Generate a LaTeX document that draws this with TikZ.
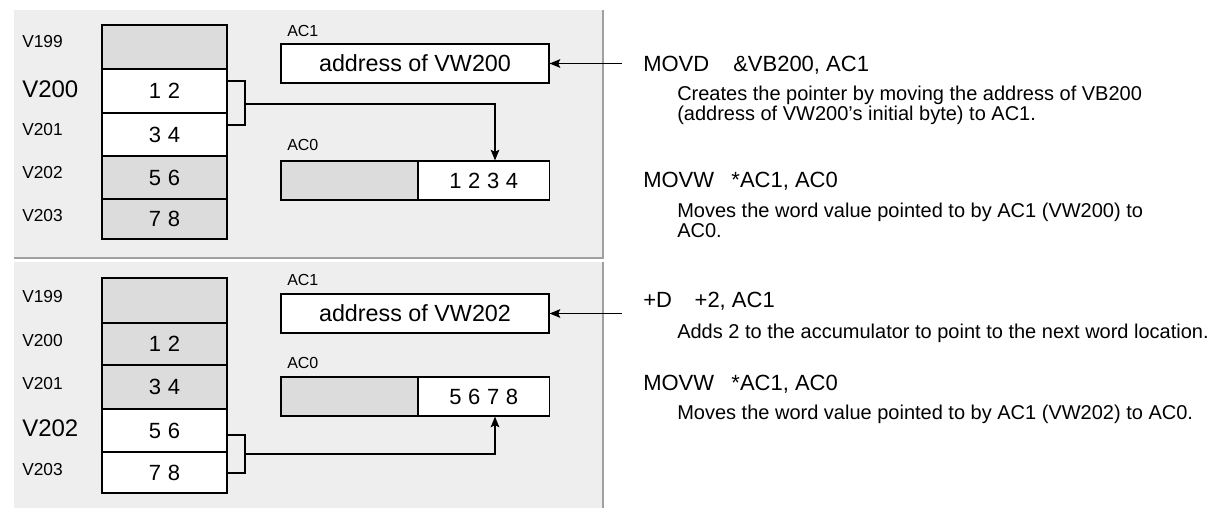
\documentclass[tikz,border=0pt]{standalone}
\usepackage{fontspec}
\setmainfont{Liberation Sans}
\usetikzlibrary{arrows.meta}
\definecolor{panel}{HTML}{EEEEEE}
\definecolor{cellg}{HTML}{DCDCDC}
\definecolor{rim}{HTML}{A0A0A0}
\begin{document}
\begin{tikzpicture}[x=0.75pt,y=-0.75pt,
  cellw/.style={draw=black, line width=0.9pt, fill=white, minimum width=93.75pt, inner sep=0pt, font=\fontsize{16.5}{18}\selectfont},
  cellgr/.style={cellw, fill=cellg},
  vsmall/.style={anchor=west, inner sep=0pt, font=\fontsize{13}{15}\selectfont},
  vbig/.style={anchor=west, inner sep=0pt, font=\fontsize{18}{20}\selectfont},
  acbox/.style={draw=black, line width=0.9pt, fill=white, minimum width=201pt, minimum height=29.25pt, inner sep=0pt, font=\fontsize{17.5}{20}\selectfont},
  acleft/.style={draw=black, line width=0.9pt, fill=cellg, minimum width=102.75pt, minimum height=29.25pt, inner sep=0pt},
  acright/.style={draw=black, line width=0.9pt, fill=white, minimum width=98.25pt, minimum height=29.25pt, inner sep=0pt, font=\fontsize{16.5}{18}\selectfont},
  aclabel/.style={anchor=west, inner sep=0pt, font=\fontsize{12}{14}\selectfont},
  hdr/.style={anchor=base west, inner sep=0pt, font=\fontsize{16.5}{19}\selectfont},
  desc/.style={anchor=base west, inner sep=0pt, font=\fontsize{15}{17}\selectfont},
  ptr/.style={draw=black, line width=0.8pt, -{Stealth[length=8pt,width=6.5pt,inset=1.5pt]}},
  brk/.style={draw=black, line width=0.8pt}
]
\useasboundingbox (0,0) rectangle (1228,508);

% panels
\fill[panel] (14,10) rectangle (603,258);
\draw[rim, line width=1.6pt] (14,258) -- (603,258) -- (603,10);
\fill[panel] (14,262) rectangle (603,508);
\draw[rim, line width=1.6pt] (603,262) -- (603,508);

% ---------- top panel ----------
\node[cellgr, minimum height=33pt]    (t199) at (164.5,47)    {};
\node[cellw,  minimum height=33pt]    (t200) at (164.5,91)    {1\hspace{5pt}2};
\node[cellw,  minimum height=32.25pt] (t201) at (164.5,134.5) {3\hspace{5pt}4};
\node[cellgr, minimum height=32.25pt] (t202) at (164.5,177.5) {5\hspace{5pt}6};
\node[cellgr, minimum height=30pt]    (t203) at (164.5,219)   {7\hspace{5pt}8};

\node[vsmall] (lt199) at (22,42)  {V199};
\node[vbig]   (lt200) at (22,89)  {V200};
\node[vsmall] (lt201) at (22,130) {V201};
\node[vsmall] (lt202) at (22,173) {V202};
\node[vsmall] (lt203) at (22,216) {V203};

\node[aclabel] (lac1t) at (287,31) {AC1};
\node[acbox] (ac1t) at (415,63.5) {address of VW200};
\node[aclabel] (lac0t) at (287,145) {AC0};
\node[acleft]  (ac0tl) at (349.5,180.5) {};
\node[acright] (ac0tr) at (483.75,180.5) {1\hspace{5pt}2\hspace{5pt}3\hspace{5pt}4};

\coordinate (bt1) at (245,81);
\coordinate (bt2) at (245,125);
\coordinate (bt3) at (245,104);
\coordinate (xt) at (495,0);
\draw[brk] (t200.east |- bt1) -- (bt1) -- (bt2) -- (t201.east |- bt2);
\draw[ptr] (bt3) -| (ac0tr.north -| xt);

\coordinate (in1) at (622,63.5);
\draw[ptr] (in1) -- (ac1t.east);

% ---------- bottom panel ----------
\node[cellgr, minimum height=33.75pt] (b199) at (164.5,300.5) {};
\node[cellgr, minimum height=31.5pt]  (b200) at (164.5,344)   {1\hspace{5pt}2};
\node[cellgr, minimum height=33pt]    (b201) at (164.5,387)   {3\hspace{5pt}4};
\node[cellw,  minimum height=32.25pt] (b202) at (164.5,430.5) {5\hspace{5pt}6};
\node[cellw,  minimum height=30.75pt] (b203) at (164.5,472.5) {7\hspace{5pt}8};

\node[vsmall] (lb199) at (22,297) {V199};
\node[vsmall] (lb200) at (22,341) {V200};
\node[vsmall] (lb201) at (22,384) {V201};
\node[vbig]   (lb202) at (22,428) {V202};
\node[vsmall] (lb203) at (22,470) {V203};

\node[aclabel] (lac1b) at (287,280) {AC1};
\node[acbox] (ac1b) at (415,313.5) {address of VW202};
\node[aclabel] (lac0b) at (287,363) {AC0};
\node[acleft]  (ac0bl) at (349.5,396.5) {};
\node[acright] (ac0br) at (483.75,396.5) {5\hspace{5pt}6\hspace{5pt}7\hspace{5pt}8};

\coordinate (bb1) at (245,435);
\coordinate (bb2) at (245,473);
\coordinate (bb3) at (245,454);
\coordinate (xb) at (495,0);
\draw[brk] (b202.east |- bb1) -- (bb1) -- (bb2) -- (b203.east |- bb2);
\draw[ptr] (bb3) -| (ac0br.south -| xb);

\coordinate (in2) at (622,313.5);
\draw[ptr] (in2) -- (ac1b.east);

% ---------- instructions ----------
\node[hdr]  (i1)  at (643,71)  {MOVD\hspace{18pt}\&VB200, AC1};
\node[desc] (d1a) at (677,100) {Creates the pointer by moving the address of VB200};
\node[desc] (d1b) at (677,120) {(address of VW200’s initial byte) to AC1.};
\node[hdr]  (i2)  at (643,187) {MOVW\hspace{13pt}*AC1, AC0};
\node[desc] (d2a) at (677,217) {Moves the word value pointed to by AC1 (VW200) to};
\node[desc] (d2b) at (677,237) {AC0.};

\node[hdr]  (i3)  at (643,307) {+D\hspace{17pt}+2, AC1};
\node[desc] (d3)  at (677,338) {Adds 2 to the accumulator to point to the next word location.};
\node[hdr]  (i4)  at (643,390) {MOVW\hspace{13pt}*AC1, AC0};
\node[desc] (d4)  at (677,419) {Moves the word value pointed to by AC1 (VW202) to AC0.};
\end{tikzpicture}
\end{document}
